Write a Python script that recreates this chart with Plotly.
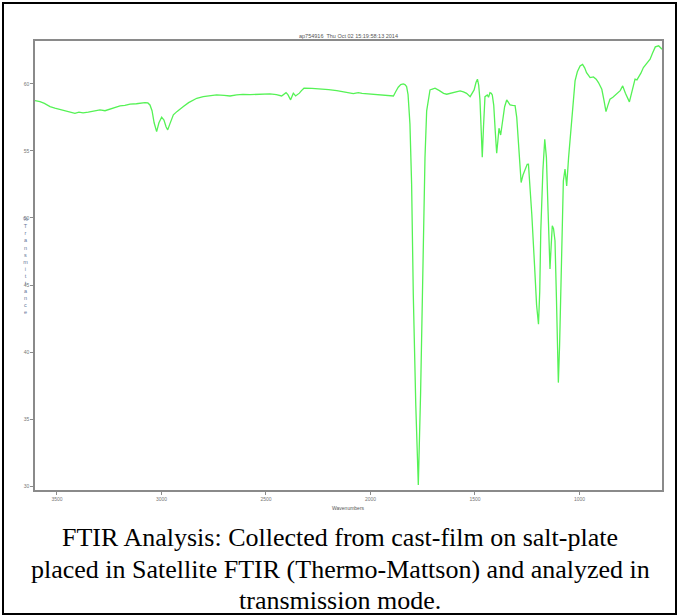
import plotly.graph_objects as go

# Wavenumbers (cm-1) and %Transmittance
wavenumbers = [3605, 3581, 3560, 3533, 3510, 3490, 3470, 3450, 3430, 3414, 3395, 3375, 3350, 3320, 3294, 3270,
               3246, 3220, 3198, 3175, 3150, 3120, 3100, 3079, 3065, 3055, 3045, 3035, 3023, 3012, 2999, 2988,
               2978, 2970, 2960, 2950, 2943, 2925, 2910, 2895, 2870, 2850, 2831, 2800, 2770, 2736, 2700, 2672,
               2640, 2610, 2576, 2540, 2510, 2481, 2450, 2425, 2404, 2395, 2382, 2375, 2369, 2358, 2340, 2330,
               2318, 2280, 2241, 2200, 2161, 2120, 2082, 2070, 2058, 2040, 2002, 1960, 1920, 1890, 1880, 1867,
               1855, 1843, 1835, 1827, 1820, 1811, 1803, 1795, 1783, 1771, 1760, 1753, 1747, 1739, 1731, 1715,
               1707, 1691, 1670, 1650, 1635, 1610, 1590, 1571, 1555, 1540, 1523, 1504, 1495, 1488, 1482, 1476,
               1470, 1465, 1459, 1452, 1441, 1435, 1428, 1422, 1417, 1410, 1403, 1396, 1390, 1385, 1377, 1368,
               1358, 1348, 1340, 1332, 1320, 1308, 1300, 1292, 1284, 1279, 1270, 1260, 1250, 1244, 1238, 1228,
               1215, 1205, 1196, 1190, 1185, 1175, 1166, 1158, 1150, 1145, 1141, 1135, 1130, 1124, 1117, 1110,
               1105, 1101, 1095, 1088, 1077, 1069, 1061, 1052, 1042, 1021, 1010, 997, 985, 975, 966, 949,
               933, 920, 909, 893, 883, 873, 864, 854, 840, 822, 805, 793, 780, 761, 750, 734,
               725, 718, 706, 694, 680, 662, 650, 637, 621, 605]
transmittance = [58.75, 58.68, 58.55, 58.31, 58.20, 58.12, 58.01, 57.95, 57.88, 57.81, 57.90, 57.84, 57.89, 57.98, 58.06, 58.00,
                 58.13, 58.22, 58.36, 58.40, 58.49, 58.52, 58.58, 58.61, 58.58, 58.43, 58.00, 57.10, 56.44, 57.10, 57.52, 57.30,
                 56.80, 56.57, 57.00, 57.45, 57.69, 57.95, 58.15, 58.31, 58.60, 58.80, 58.93, 59.05, 59.12, 59.18, 59.15, 59.10,
                 59.18, 59.22, 59.20, 59.22, 59.25, 59.25, 59.20, 59.10, 59.35, 59.20, 58.81, 59.05, 59.31, 59.10, 59.31, 59.50,
                 59.68, 59.67, 59.65, 59.58, 59.50, 59.40, 59.28, 59.32, 59.35, 59.30, 59.25, 59.22, 59.15, 59.10, 59.40, 59.75,
                 59.95, 60.00, 59.95, 59.80, 59.20, 57.00, 52.50, 44.30, 36.00, 30.08, 36.95, 44.00, 49.28, 54.50, 57.99, 59.55,
                 59.60, 59.68, 59.50, 59.30, 59.23, 59.35, 59.42, 59.48, 59.40, 59.30, 59.05, 59.55, 60.10, 60.35, 59.90, 58.81,
                 56.50, 54.53, 56.80, 59.05, 59.18, 59.00, 59.35, 59.30, 59.18, 58.40, 56.50, 54.83, 55.80, 56.69, 56.19, 57.20,
                 58.30, 58.80, 58.60, 58.44, 58.40, 58.38, 57.50, 55.50, 53.30, 52.64, 53.20, 53.64, 54.00, 54.01, 52.80, 50.28,
                 46.50, 43.50, 42.07, 44.50, 49.03, 53.50, 55.87, 54.50, 50.50, 47.50, 46.19, 48.00, 49.41, 49.20, 48.30, 44.00,
                 39.50, 37.72, 40.50, 46.00, 52.76, 53.64, 52.39, 54.50, 56.57, 60.22, 60.90, 61.34, 61.46, 61.20, 60.84, 60.47,
                 60.52, 60.35, 60.10, 59.60, 58.80, 57.93, 58.40, 58.86, 59.00, 59.23, 59.50, 59.85, 59.30, 58.66, 59.40, 60.35,
                 60.30, 60.47, 60.80, 61.22, 61.50, 61.84, 62.30, 62.76, 62.84, 62.59]

x_ticks = [3500, 3000, 2500, 2000, 1500, 1000]
y_ticks = [30, 35, 40, 45, 50, 55, 60]

title_text = "ap754916  Thu Oct 02 15:19:58:13 2014"
x_title = "Wavenumbers"
y_title = "%Transmittance"
caption_lines = ["FTIR Analysis: Collected from cast-film on salt-plate",
                 "placed in Satellite FTIR (Thermo-Mattson) and analyzed in",
                 "transmission mode."]

W, H = 679, 616
L, R, T, B = 35, 662, 41, 490  # plot area in pixels


def px(x):
    return (x - L) / (R - L)


def py(y):
    return (B - y) / (B - T)


fig = go.Figure()
fig.add_trace(go.Scatter(x=wavenumbers, y=transmittance, mode="lines",
                         line=dict(color="#55F255", width=1.3), showlegend=False, hoverinfo="skip"))

axis_common = dict(showgrid=False, zeroline=False, showline=True, linecolor="#8a8a8a", linewidth=1.5,
                   mirror=True, ticks="outside", ticklen=3, tickcolor="#8a8a8a", tickwidth=1,
                   tickfont=dict(family="Liberation Sans", size=5, color="#777777"))

fig.update_layout(
    width=W, height=H, autosize=False,
    margin=dict(l=L, r=W - R, t=T, b=H - B, pad=0),
    paper_bgcolor="white", plot_bgcolor="white",
    xaxis=dict(range=[3605, 605], tickvals=x_ticks, ticktext=[str(v) for v in x_ticks], **axis_common),
    yaxis=dict(range=[29.71, 63.2], tickvals=y_ticks, ticktext=[str(v) for v in y_ticks], **axis_common),
)

annotations = [
    dict(text=title_text, x=px(348), y=py(36), xref="paper", yref="paper", showarrow=False,
         font=dict(family="Liberation Sans", size=5.5, color="#555555"), xanchor="center", yanchor="middle"),
    dict(text=x_title, x=px(348), y=py(508), xref="paper", yref="paper", showarrow=False,
         font=dict(family="Liberation Sans", size=5, color="#555555"), xanchor="center", yanchor="middle"),
    dict(text="<br>".join(list(y_title)), x=px(25), y=py(214), xref="paper", yref="paper", showarrow=False,
         font=dict(family="Liberation Sans", size=5.5, color="#667799"), xanchor="center", yanchor="top",
         align="center"),
]
for line, yc in zip(caption_lines, [537, 569, 600]):
    annotations.append(dict(text=line, x=px(340), y=py(yc), xref="paper", yref="paper", showarrow=False,
                            font=dict(family="Liberation Serif", size=26, color="black"),
                            xanchor="center", yanchor="middle"))
fig.update_layout(annotations=annotations)

fig.add_shape(type="rect", xref="paper", yref="paper",
              x0=px(3), x1=px(676), y0=py(614), y1=py(3),
              line=dict(color="black", width=2), fillcolor="rgba(0,0,0,0)", layer="below")

fig.write_html("out.html", config={"displayModeBar": False},
               post_script="document.body.style.margin='0';document.body.style.overflow='hidden';")
